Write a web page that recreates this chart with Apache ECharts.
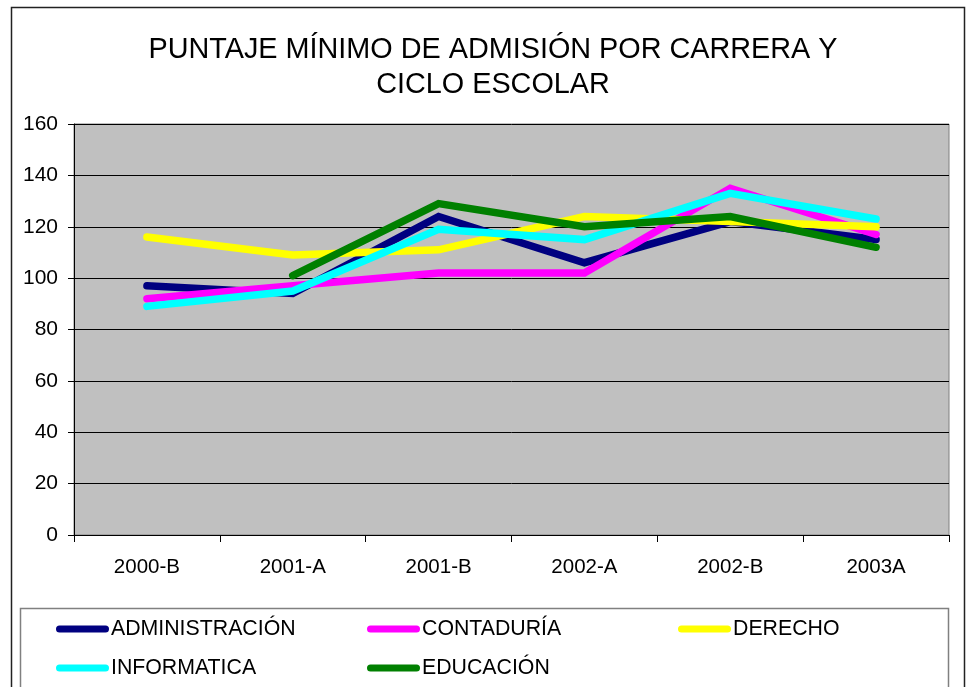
<!DOCTYPE html>
<html>
<head>
<meta charset="utf-8">
<script src="https://cdn.jsdelivr.net/npm/echarts@6/dist/echarts.min.js"></script>
<style>
html,body{margin:0;padding:0;background:#fff;}
#chart{width:971px;height:687px;}
</style>
</head>
<body>
<div id="chart"></div>
<script>
var categories = ['2000-B','2001-A','2001-B','2002-A','2002-B','2003A'];
var yTicks = [0,20,40,60,80,100,120,140,160];
var seriesNames = ['ADMINISTRACIÓN','CONTADURÍA','DERECHO','INFORMATICA','EDUCACIÓN'];
var administracion = [97, 94, 124, 106, 122, 115];
var contaduria     = [92, 97, 102, 102, 135, 117];
var derecho        = [116, 109, 111, 124, 122, 120];
var informatica    = [89, 95, 119, 115, 133, 123];
var educacion      = [null, 101, 129, 120, 124, 112];
var colors = ['#000080','#FF00FF','#FFFF00','#00FFFF','#008000'];
var values = [administracion, contaduria, derecho, informatica, educacion];

var FONT = '"Liberation Sans", Arial, sans-serif';
var chart = echarts.init(document.getElementById('chart'), null, {renderer:'canvas'});

var pill = 'path://M3.5,0 H49.5 A3.5,3.5 0 0 1 49.5,7 H3.5 A3.5,3.5 0 0 1 3.5,0 Z';
var legendPos = [[56,629],[367,629],[678,629],[56,668],[367,668]];
var legends = seriesNames.map(function(n,i){
  return {
    data:[n], left:legendPos[i][0], top:legendPos[i][1]-12, padding:0,
    icon:pill, itemWidth:53, itemHeight:7, itemGap:0,
    textStyle:{fontFamily:FONT, fontSize:21.3, color:'#000', lineHeight:24, padding:[0,0,0,-3]},
    selectedMode:false
  };
});

var option = {
  backgroundColor:'#ffffff',
  animation:false,
  title:{
    text:'PUNTAJE MÍNIMO DE ADMISIÓN POR CARRERA Y\nCICLO ESCOLAR',
    left:488, top:28, textAlign:'center',
    textStyle:{fontFamily:FONT, fontSize:28.8, fontWeight:'normal', color:'#000', lineHeight:35}
  },
  graphic:[
    {type:'rect', shape:{x:11.5,y:7.5,width:953,height:700}, style:{fill:'none', stroke:'#222', lineWidth:1.5}, z:-1},
    {type:'rect', shape:{x:20.5,y:608.5,width:928,height:100}, style:{fill:'none', stroke:'#808080', lineWidth:1.5}, z:-1}
  ],
  legend:legends,
  grid:{left:74, right:22, top:124, bottom:152, show:true, backgroundColor:'#C0C0C0', borderColor:'#808080', borderWidth:1},
  xAxis:{
    type:'category', data:categories, boundaryGap:true,
    axisLine:{lineStyle:{color:'#000', width:1}},
    axisTick:{show:true, length:7, lineStyle:{color:'#000'}},
    axisLabel:{fontFamily:FONT, fontSize:20.5, color:'#000', margin:22}
  },
  yAxis:{
    type:'value', min:yTicks[0], max:yTicks[yTicks.length-1], interval:yTicks[1]-yTicks[0],
    axisLine:{show:true, lineStyle:{color:'#000', width:1}},
    axisTick:{show:true, length:6, lineStyle:{color:'#000'}},
    splitLine:{show:true, lineStyle:{color:'#000', width:1}},
    axisLabel:{fontFamily:FONT, fontSize:21, color:'#000', margin:16}
  },
  series: seriesNames.map(function(n,i){
    return {
      name:n, type:'line', data:values[i], showSymbol:false, symbol:'none',
      connectNulls:false,
      itemStyle:{color:colors[i]},
      lineStyle:{color:colors[i], width:7.5, cap:'round', join:'miter'},
      z:2+i
    };
  })
};
chart.setOption(option);
</script>
</body>
</html>
